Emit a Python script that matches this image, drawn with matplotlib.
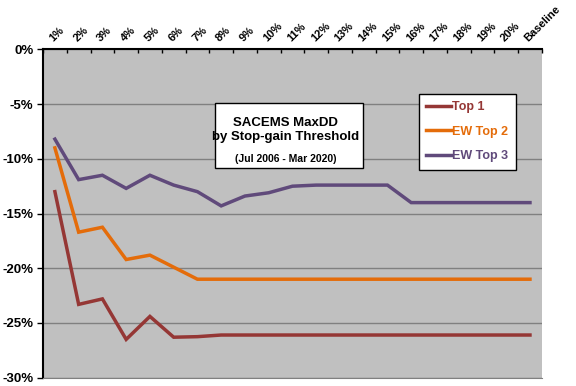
import numpy as np
import matplotlib
matplotlib.use('Agg')
import matplotlib.pyplot as plt
from matplotlib.ticker import FuncFormatter

plt.rcParams['font.family'] = ['Liberation Sans', 'DejaVu Sans']

thresholds = ['1%', '2%', '3%', '4%', '5%', '6%', '7%', '8%', '9%', '10%',
              '11%', '12%', '13%', '14%', '15%', '16%', '17%', '18%', '19%',
              '20%', 'Baseline']

top1 = [-13.0, -23.3, -22.8, -26.5, -24.4, -26.3, -26.25, -26.1, -26.1, -26.1,
        -26.1, -26.1, -26.1, -26.1, -26.1, -26.1, -26.1, -26.1, -26.1, -26.1, -26.1]
ew_top2 = [-9.0, -16.7, -16.25, -19.2, -18.8, -19.9, -21.0, -21.0, -21.0, -21.0,
           -21.0, -21.0, -21.0, -21.0, -21.0, -21.0, -21.0, -21.0, -21.0, -21.0, -21.0]
ew_top3 = [-8.2, -11.9, -11.5, -12.7, -11.5, -12.4, -13.0, -14.3, -13.4, -13.1,
           -12.5, -12.4, -12.4, -12.4, -12.4, -14.0, -14.0, -14.0, -14.0, -14.0, -14.0]

series = [('Top 1', top1, '#953735'),
          ('EW Top 2', ew_top2, '#E46C0A'),
          ('EW Top 3', ew_top3, '#604A7B')]

fig = plt.figure(figsize=(5.76, 3.86), dpi=100)
ax = fig.add_axes([0.0747, 0.0215, 0.866, 0.8505])
ax.set_facecolor('#C0C0C0')

x = np.arange(len(thresholds))
for name, vals, col in series:
    ax.plot(x, vals, color=col, lw=2.5, label=name, solid_joinstyle='miter')

ax.set_xlim(-0.5, len(thresholds) - 0.5)
ax.set_ylim(-30, 0)
ax.set_yticks(np.arange(-30, 1, 5))
ax.yaxis.set_major_formatter(FuncFormatter(lambda v, p: f'{int(round(v))}%'))
ax.grid(axis='y', color='#808080', lw=1)
ax.set_axisbelow(True)

ax.xaxis.tick_top()
ax.set_xticks(x)
ax.set_xticklabels(thresholds, rotation=45, ha='left', va='bottom',
                   rotation_mode='anchor', fontsize=8, fontweight='bold')
ax.tick_params(axis='x', which='major', length=0, pad=4)
ax.set_xticks(np.arange(-0.5, len(thresholds)), minor=True)
ax.tick_params(axis='x', which='minor', direction='in', length=3, width=1, top=True, bottom=False)
ax.tick_params(axis='y', length=4, width=1, labelsize=9.5, pad=3)
for lab in ax.get_yticklabels():
    lab.set_fontweight('bold')

ax.spines['right'].set_visible(False)
ax.spines['bottom'].set_color('#808080')
ax.spines['left'].set_linewidth(1.5)
ax.spines['top'].set_linewidth(1.5)

ax.text(0.486, 0.755, 'SACEMS MaxDD\nby Stop-gain Threshold',
        transform=ax.transAxes, ha='center', va='center', fontsize=9.5,
        fontweight='bold', linespacing=1.25)
ax.text(0.486, 0.665, '(Jul 2006 - Mar 2020)', transform=ax.transAxes,
        ha='center', va='center', fontsize=7.5, fontweight='bold')
box = plt.Rectangle((0.345, 0.64), 0.296, 0.197, transform=ax.transAxes,
                    facecolor='white', edgecolor='black', lw=1, zorder=2)
ax.add_patch(box)
for t in ax.texts:
    t.set_zorder(3)

leg = ax.legend(loc='upper left', bbox_to_anchor=(0.753, 0.865), fontsize=9,
                frameon=True, fancybox=False, edgecolor='black', framealpha=1,
                handlelength=2.0, labelspacing=1.0, borderpad=0.6,
                handletextpad=0.1, borderaxespad=0)
leg.get_frame().set_linewidth(1)
for txt, (_, _, col) in zip(leg.get_texts(), series):
    txt.set_color(col)
    txt.set_fontweight('bold')

fig.savefig('out.png', dpi=100)
